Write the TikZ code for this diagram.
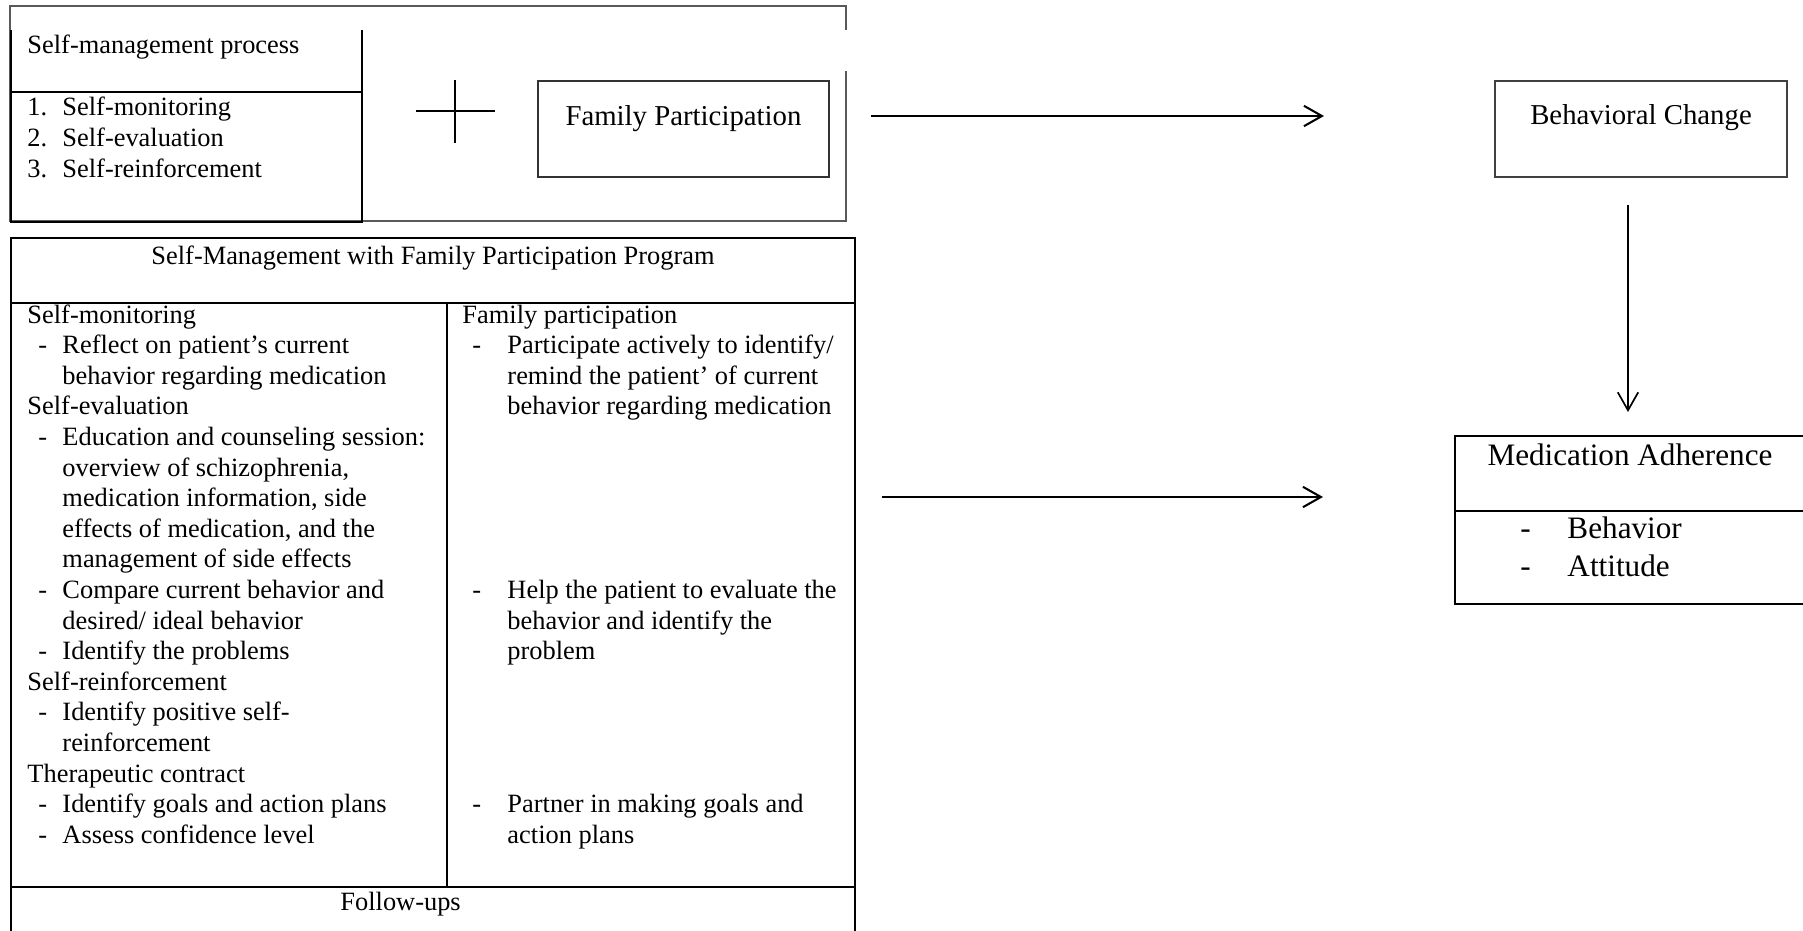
\documentclass[tikz,border=0pt]{standalone}
\usepackage{fontspec}
\setmainfont{Liberation Serif}
\usetikzlibrary{arrows.meta}

\begin{document}
\begin{tikzpicture}[x=0.4167pt,y=-0.4167pt]
\tikzset{txt/.style = {inner sep=0pt,anchor=base west,font=\fontsize{11}{13}\selectfont}}
\tikzset{boxtitle/.style = {inner sep=0pt,anchor=base,font=\fontsize{12}{14}\selectfont}}
\tikzset{frame/.style = {draw=black!65,line width=0.45pt}}
\tikzset{heavy/.style = {draw=black,line width=0.85pt}}
\tikzset{edge/.style = {-{Straight Barb[length=7.5pt,width=8.5pt]},line width=0.85pt}}
\useasboundingbox (0,0) rectangle (1803,931);
\clip (0,0) rectangle (1803,931);
% frames
\draw[frame] (846,30) -- (846,6) -- (10,6) -- (10,221) -- (846,221) -- (846,71);
\draw[heavy] (11,30) -- (11,222) -- (362,222) -- (362,30);
\draw[heavy] (11,92) -- (362,92);
\draw[line width=0.6pt] (416,111) -- (495,111) (455,80) -- (455,143);
\draw[draw=black!80,line width=0.5pt] (538,81) rectangle (829,177);
\draw[draw=black!75,line width=0.5pt] (1495,81) rectangle (1787,177);
\draw[heavy] (11,960) -- (11,238) -- (855,238) -- (855,960);
\draw[heavy] (11,303) -- (855,303) (11,887) -- (855,887);
\draw[heavy] (447,303) -- (447,887);
\draw[heavy] (1455,436) rectangle (1805,604);
\draw[heavy] (1455,511) -- (1805,511);
% top box
\node[txt] (smp) at (27,53) {Self-management process};
\foreach \i/\s in {1/Self-monitoring, 2/Self-evaluation, 3/Self-reinforcement}{
  \node[txt] (n\i) at (27,{115+31*(\i-1)}) {\i.};
  \node[txt] (p\i) at (62,{115+31*(\i-1)}) {\s};
}
\node[boxtitle] (fp) at (683.5,125) {Family Participation};
\node[boxtitle] (bc) at (1641,124) {Behavioral Change};
% program
\node[txt,anchor=base] (prog) at (433,264) {Self-Management with Family Participation Program};
\foreach \i/\x/\s in {1/27/Self-monitoring, 2/62/Reflect on patient's current,
    3/62/behavior regarding medication, 4/27/Self-evaluation,
    5/62/Education and counseling session:, 6/62/{overview of schizophrenia,},
    7/62/{medication information, side}, 8/62/{effects of medication, and the},
    9/62/management of side effects, 10/62/Compare current behavior and,
    11/62/{desired/ ideal behavior}, 12/62/Identify the problems,
    13/27/Self-reinforcement, 14/62/Identify positive self-,
    15/62/reinforcement, 16/27/Therapeutic contract,
    17/62/Identify goals and action plans, 18/62/Assess confidence level}
  \node[txt] (l\i) at (\x,{323+30.6*(\i-1)}) {\s};
\foreach \i in {2,5,10,12,14,17,18}
  \node[txt] (ld\i) at (38,{323+30.6*(\i-1)}) {-};
\foreach \i/\x/\s in {1/462/Family participation, 2/507/{Participate actively to identify/},
    3/507/remind the patient' of current, 4/507/behavior regarding medication,
    10/507/Help the patient to evaluate the, 11/507/behavior and identify the,
    12/507/problem, 17/507/Partner in making goals and, 18/507/action plans}
  \node[txt] (r\i) at (\x,{323+30.6*(\i-1)}) {\s};
\foreach \i in {2,10,17}
  \node[txt] (rd\i) at (472,{323+30.6*(\i-1)}) {-};
\node[txt] (fu) at (340,910) {Follow-ups};
% outcome
\node[boxtitle,font=\fontsize{13}{15}\selectfont] (ma) at (1630,465) {Medication Adherence};
\node[txt,font=\fontsize{13}{15}\selectfont] (mad1) at (1520,538) {-};
\node[txt,font=\fontsize{13}{15}\selectfont] (ma1) at (1567,538) {Behavior};
\node[txt,font=\fontsize{13}{15}\selectfont] (mad2) at (1520,576) {-};
\node[txt,font=\fontsize{13}{15}\selectfont] (ma2) at (1567,576) {Attitude};
% arrows
\coordinate (a1) at (871,116);
\coordinate (b1) at (1324,116);
\coordinate (a2) at (882,497);
\coordinate (b2) at (1323,497);
\coordinate (a3) at (1628,205);
\coordinate (b3) at (1628,412);
\draw[edge] (a1) -- (b1);
\draw[edge] (a2) -- (b2);
\draw[edge,line width=0.7pt] (a3) -- (b3);
\end{tikzpicture}
\end{document}
